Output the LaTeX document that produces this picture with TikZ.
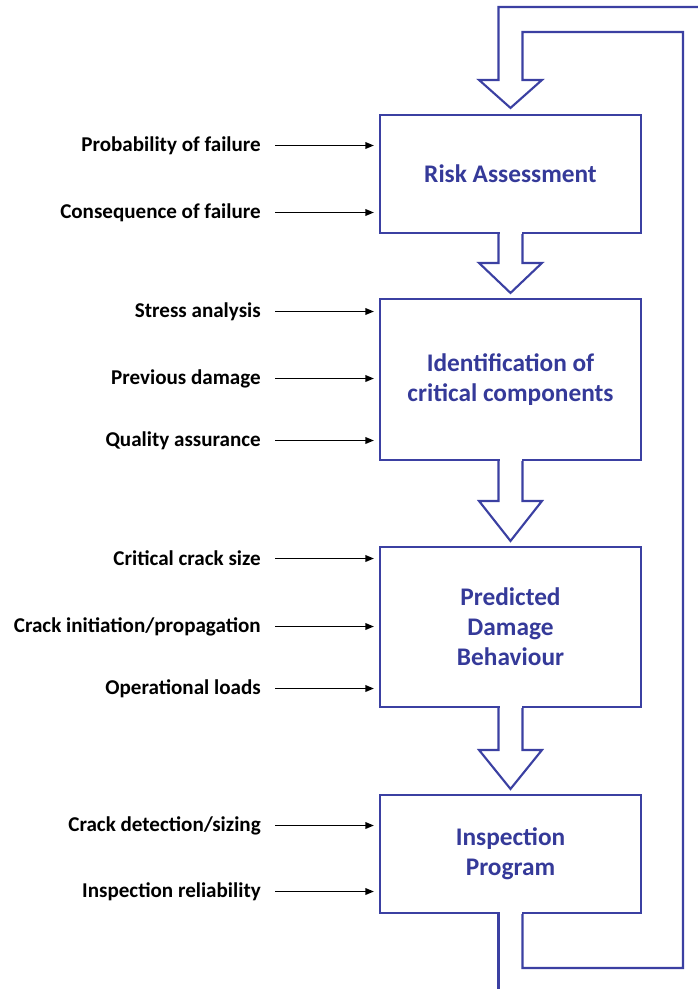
\documentclass[tikz,border=0pt]{standalone}
\usepackage{fontspec}
\setmainfont{Carlito}
\usepackage{tikz}
\usetikzlibrary{arrows.meta,positioning,calc}
\definecolor{flowBlue}{HTML}{3B40A2}
\definecolor{flowText}{HTML}{353A99}
\newcommand{\titlefont}{\fontsize{19}{22.5}\selectfont\bfseries}
\newcommand{\labelfont}{\fontsize{15.8}{18}\selectfont\bfseries}
% hollow block arrow: from box, to box, head height (px)
\newcommand{\hollowdown}[3]{%
  \fill[white] ($(#1.south)+(-11,-2)$) rectangle ($(#1.south)+(11,2)$);
  \draw[flowline] ($(#1.south)+(-12,0)$) -- ($(#2.north)+(-12,-5-#3)$) -- ++(-19.5,0)
    -- ($(#2.north)+(0,-5)$) -- ($(#2.north)+(31.5,-5-#3)$) -- ++(-19.5,0) -- ($(#1.south)+(12,0)$);}

\begin{document}
\begin{tikzpicture}[x=0.75pt,y=-0.75pt,
    stagebox/.style={draw=flowBlue,line width=1.6pt,fill=white,minimum width=195.75pt,
      align=center,text=flowText,font=\titlefont,inner sep=2pt},
    flowline/.style={draw=flowBlue,line width=1.6pt,line join=miter},
    inlabel/.style={anchor=east,inner sep=0pt,font=\labelfont},
    feed/.style={-{Triangle[length=6.5pt,width=5pt]},line width=1.2pt,shorten >=3.75pt}]
  \clip (0,0) rectangle (698,989);

  % stages
  \node[stagebox,minimum height=88.5pt] (risk) at (510.5,174) {Risk Assessment};
  \node[stagebox,minimum height=120.75pt] (ident) at (510.5,379.5) {Identification of\\critical components};
  \node[stagebox,minimum height=120pt] (pred) at (510.5,627) {Predicted\\Damage\\Behaviour};
  \node[stagebox,minimum height=88.5pt] (insp) at (510.5,854) {Inspection\\Program};

  % block arrows between stages
  \hollowdown{risk}{ident}{30}
  \hollowdown{ident}{pred}{40}
  \hollowdown{pred}{insp}{39}

  % return loop
  \coordinate (retBL) at (683,968);
  \coordinate (retTR) at (683,32);
  \coordinate (retOut) at (720,7);
  \fill[white] ($(insp.south)+(-11,-2)$) rectangle ($(insp.south)+(11,2)$);
  \draw[flowline] ($(insp.south)+(12,0)$) |- (retBL) -- (retTR) -| ($(risk.north)+(12,-34)$)
    -- ++(19.5,0) -- ($(risk.north)+(0,-6)$) -- ($(risk.north)+(-31.5,-34)$) -- ++(19.5,0) |- (retOut);
  \draw[flowline] ($(insp.south)+(-12,0)$) -- ++(0,90);

  % inputs
  \node[inlabel] (pof) at (261,145.5) {Probability of failure};
  \node[inlabel] (cof) at (261,212.5) {Consequence of failure};
  \node[inlabel] (stress) at (261,311.5) {Stress analysis};
  \node[inlabel] (prev) at (261,378.5) {Previous damage};
  \node[inlabel] (qa) at (261,440.5) {Quality assurance};
  \node[inlabel] (ccs) at (261,558.5) {Critical crack size};
  \node[inlabel] (cip) at (261,626.5) {Crack initiation/propagation};
  \node[inlabel] (ops) at (261,688.5) {Operational loads};
  \node[inlabel] (cds) at (261,825.5) {Crack detection/sizing};
  \node[inlabel] (irel) at (261,891.5) {Inspection reliability};

  \foreach \src/\dst in {pof/risk,cof/risk,stress/ident,prev/ident,qa/ident,ccs/pred,cip/pred,ops/pred,cds/insp,irel/insp}
    \draw[feed] ([xshift=10.5pt]\src.east) -- (\src.east -| \dst.west);
\end{tikzpicture}
\end{document}
